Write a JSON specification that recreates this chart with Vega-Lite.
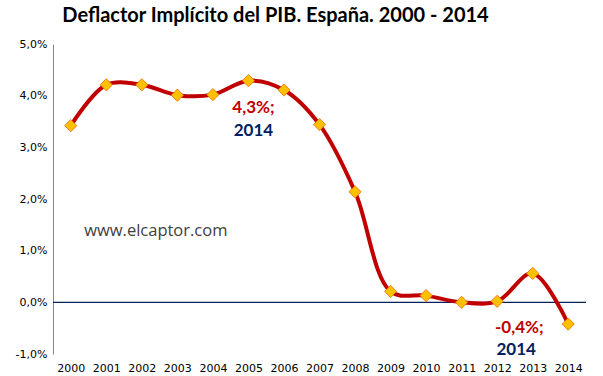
{
  "$schema": "https://vega.github.io/schema/vega-lite/v6.json",
  "width": 533,
  "height": 310,
  "autosize": {"type": "none"},
  "padding": {"left": 53, "top": 44, "right": 17, "bottom": 22},
  "background": "white",
  "config": {"view": {"stroke": null}},
  "title": {
    "text": "Deflactor Implícito del PIB. España. 2000 - 2014",
    "font": "Lato",
    "fontSize": 20,
    "fontWeight": "bold",
    "color": "#000000",
    "anchor": "middle",
    "dx": -44,
    "offset": 12
  },
  "datasets": {
    "main": [
      {"year": "2000", "value": 0.0342},
      {"year": "2001", "value": 0.0421},
      {"year": "2002", "value": 0.0421},
      {"year": "2003", "value": 0.0401},
      {"year": "2004", "value": 0.0402},
      {"year": "2005", "value": 0.0429},
      {"year": "2006", "value": 0.0411},
      {"year": "2007", "value": 0.0344},
      {"year": "2008", "value": 0.0214},
      {"year": "2009", "value": 0.0021},
      {"year": "2010", "value": 0.0013},
      {"year": "2011", "value": 0.0000},
      {"year": "2012", "value": 0.0002},
      {"year": "2013", "value": 0.0056},
      {"year": "2014", "value": -0.0042}
    ],
    "ann": [
      {"year": "2005", "value": 0.0429, "pct": "4,3%;", "yr": "2014"},
      {"year": "2014", "value": -0.0042, "pct": "-0,4%;", "yr": "2014"}
    ]
  },
  "encoding": {
    "x": {
      "field": "year",
      "type": "ordinal",
      "scale": {"type": "point", "padding": 0.5},
      "axis": {
        "title": null,
        "labelAngle": 0,
        "domain": false,
        "ticks": false,
        "labelPadding": 8,
        "labelFont": "DejaVu Sans",
        "labelFontSize": 11,
        "labelColor": "#000000"
      }
    },
    "y": {
      "field": "value",
      "type": "quantitative",
      "scale": {"domain": [-0.01, 0.05], "nice": false, "zero": false},
      "axis": {
        "title": null,
        "values": [-0.01, 0, 0.01, 0.02, 0.03, 0.04, 0.05],
        "labelExpr": "replace(replace(format(datum.value, '.1%'), '.', ','), '−', '-')",
        "grid": false,
        "ticks": false,
        "domainColor": "#868686",
        "domainWidth": 1,
        "labelPadding": 6,
        "labelFont": "DejaVu Sans",
        "labelFontSize": 11,
        "labelColor": "#000000"
      }
    }
  },
  "layer": [
    {
      "data": {"values": [{"z": 0}]},
      "mark": {"type": "rule", "color": "#002060", "strokeWidth": 1.3},
      "encoding": {"y": {"field": "z", "type": "quantitative"}, "x": null}
    },
    {
      "data": {"name": "main"},
      "mark": {"type": "line", "color": "#C00000", "strokeWidth": 4, "interpolate": "catmull-rom"}
    },
    {
      "data": {"name": "main"},
      "mark": {"type": "point", "shape": "diamond", "filled": true, "fill": "#FFC000", "stroke": "#E46C0A", "strokeWidth": 0.8, "size": 150, "opacity": 1}
    },
    {
      "data": {"values": [{"year": "2002", "value": 0.0139, "t": "www.elcaptor.com"}]},
      "mark": {"type": "text", "font": "Open Sans", "fontSize": 16.5, "color": "#404040", "dx": 14},
      "encoding": {"text": {"field": "t"}}
    },
    {
      "data": {"name": "ann"},
      "transform": [{"filter": "datum.year == '2005'"}],
      "mark": {"type": "text", "font": "Lato", "fontSize": 17, "fontWeight": "bold", "color": "#C00000", "dx": 5, "dy": 27},
      "encoding": {"text": {"field": "pct"}}
    },
    {
      "data": {"name": "ann"},
      "transform": [{"filter": "datum.year == '2005'"}],
      "mark": {"type": "text", "font": "Lato", "fontSize": 17, "fontWeight": "bold", "color": "#002060", "dx": 5, "dy": 50},
      "encoding": {"text": {"field": "yr"}}
    },
    {
      "data": {"name": "ann"},
      "transform": [{"filter": "datum.year == '2014'"}],
      "mark": {"type": "text", "font": "Lato", "fontSize": 17, "fontWeight": "bold", "color": "#C00000", "dx": -49, "dy": 4},
      "encoding": {"text": {"field": "pct"}}
    },
    {
      "data": {"name": "ann"},
      "transform": [{"filter": "datum.year == '2014'"}],
      "mark": {"type": "text", "font": "Lato", "fontSize": 17, "fontWeight": "bold", "color": "#002060", "dx": -52, "dy": 26},
      "encoding": {"text": {"field": "yr"}}
    }
  ]
}
